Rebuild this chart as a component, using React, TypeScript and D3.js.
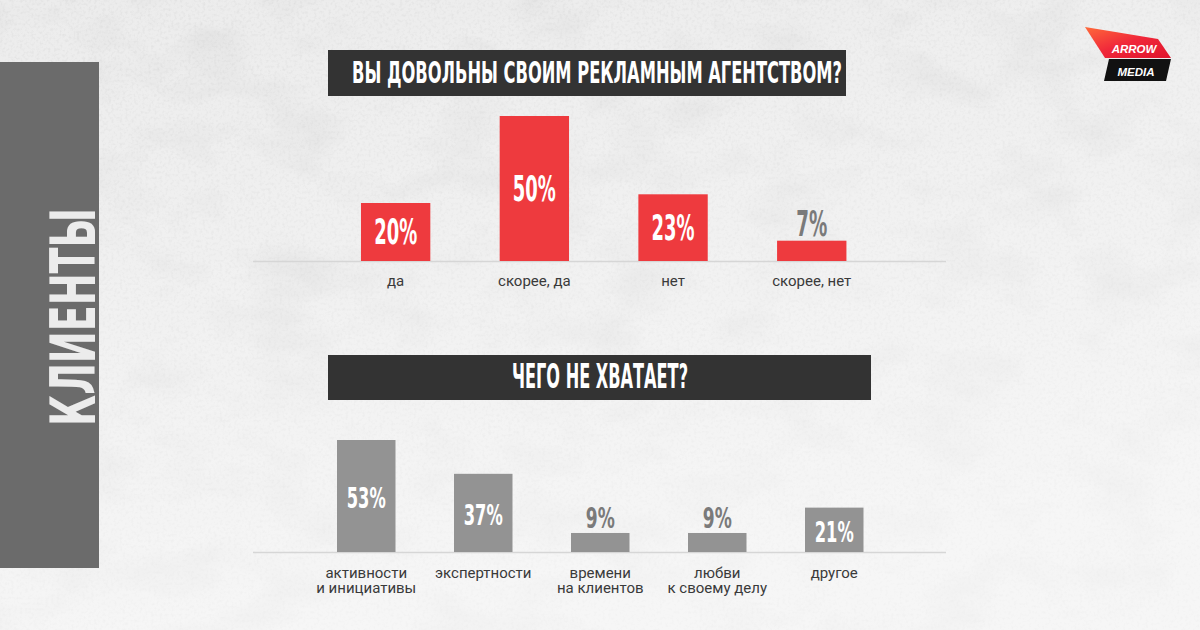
import React from "react";
import * as d3 from "d3";

const q1Title = "ВЫ ДОВОЛЬНЫ СВОИМ РЕКЛАМНЫМ АГЕНТСТВОМ?";
const q1Categories = ["да", "скорее, да", "нет", "скорее, нет"];
const q1Values = [20, 50, 23, 7];

const q2Title = "ЧЕГО НЕ ХВАТАЕТ?";
const q2Categories = [
  ["активности", "и инициативы"],
  ["экспертности"],
  ["времени", "на клиентов"],
  ["любви", "к своему делу"],
  ["другое"],
];
const q2Values = [53, 37, 9, 9, 21];

const sideLabel = "КЛИЕНТЫ";

const W = 1200;
const H = 630;
const COND = "'Liberation Sans Narrow', 'DejaVu Sans Condensed', 'Roboto', sans-serif";
const BODY = "'Liberation Sans Narrow', 'Roboto', sans-serif";

function labelLen(label: string, digitW: number, pctW: number) {
  return (label.length - 1) * digitW + pctW;
}

export default function App() {
  const x1 = d3.scaleBand<string>().domain(q1Categories).range([326.3, 881.1]).paddingInner(0.5).paddingOuter(0.25);
  const y1 = d3.scaleLinear().domain([0, 50]).range([261, 116]);

  const q2Keys = q2Categories.map((c) => c.join(" "));
  const x2 = d3.scaleBand<string>().domain(q2Keys).range([307.75, 892.75]).paddingInner(0.5).paddingOuter(0.25);
  const y2 = d3.scaleLinear().domain([0, 53]).range([552, 440]);

  return (
    <svg width={W} height={H} style={{ position: "fixed", left: 0, top: 0 }} xmlns="http://www.w3.org/2000/svg">
      <defs>
        <filter id="grain" x="0" y="0" width="100%" height="100%">
          <feTurbulence type="fractalNoise" baseFrequency="0.012 0.02" numOctaves={4} seed={3} result="n" />
          <feColorMatrix type="matrix" values="0 0 0 0 0.55  0 0 0 0 0.55  0 0 0 0 0.55  0 0 0 -1.4 0.75" />
        </filter>
        <filter id="fine" x="0" y="0" width="100%" height="100%">
          <feTurbulence type="fractalNoise" baseFrequency="0.35" numOctaves={2} seed={7} />
          <feColorMatrix type="matrix" values="0 0 0 0 0.5  0 0 0 0 0.5  0 0 0 0 0.5  0 0 0 -2.2 1.2" />
        </filter>
        <linearGradient id="fade" x1="0" y1="0" x2="0.3" y2="1">
          <stop offset="0" stopColor="#ffffff" stopOpacity={0} />
          <stop offset="1" stopColor="#ffffff" stopOpacity={0.55} />
        </linearGradient>
        <linearGradient id="redg" x1="0" y1="0" x2="1" y2="1">
          <stop offset="0" stopColor="#ff6a3a" />
          <stop offset="0.5" stopColor="#f0283a" />
          <stop offset="1" stopColor="#e0142c" />
        </linearGradient>
      </defs>
      <rect x={0} y={0} width={W} height={H} fill="#ececec" />
      <rect x={0} y={0} width={W} height={H} filter="url(#grain)" opacity={0.45} />
      <rect x={0} y={0} width={W} height={H} filter="url(#fine)" opacity={0.22} />
      <rect x={0} y={0} width={W} height={H} fill="url(#fade)" />

      {/* side panel */}
      <rect x={0} y={62} width={99} height={506} fill="#6b6b6b" />
      <text
        transform="translate(95,317) rotate(-90)"
        textAnchor="middle"
        fontFamily={COND}
        fontWeight={700}
        fontSize={63}
        fill="#ececec"
        textLength={218}
        lengthAdjust="spacingAndGlyphs"
      >
        {sideLabel}
      </text>

      {/* logo */}
      <g>
        <polygon points="1085,27 1158,39 1171,58 1105,58" fill="url(#redg)" />
        <polygon points="1109,59 1171,59 1166,81 1104,81" fill="#111" />
        <text x={1134} y={53} textAnchor="middle" fontFamily="'Liberation Sans', Arial, sans-serif" fontStyle="italic" fontWeight={700} fontSize={11.5} fill="#fff">ARROW</text>
        <text x={1136} y={76} textAnchor="middle" fontFamily="'Liberation Sans', Arial, sans-serif" fontStyle="italic" fontWeight={700} fontSize={11.5} fill="#fff">MEDIA</text>
      </g>

      {/* title 1 */}
      <rect x={328} y={50} width={518} height={46} fill="#333333" />
      <text x={597} y={83} textAnchor="middle" fontFamily={COND} fontWeight={700} fontSize={31} fill="#ffffff" textLength={490} lengthAdjust="spacingAndGlyphs">
        {q1Title}
      </text>

      {/* chart 1 */}
      <line x1={253} x2={946} y1={y1(0) + 0.5} y2={y1(0) + 0.5} stroke="#d6d6d6" strokeWidth={1.5} />
      {q1Categories.map((c, i) => {
        const v = q1Values[i];
        const x = x1(c)!;
        const bw = x1.bandwidth();
        const top = y1(v);
        const inside = v >= 10;
        const label = `${v}%`;
        return (
          <g key={c}>
            <rect x={x} y={top} width={bw} height={y1(0) - top} fill="#ee3a3e" />
            <text
              x={x + bw / 2}
              y={inside ? (top + y1(0)) / 2 + 12 : top - 5}
              textAnchor="middle"
              fontFamily={COND}
              fontWeight={700}
              fontSize={36}
              fill={inside ? "#ffffff" : "#7a7a7a"}
              textLength={labelLen(label, 12, 19)}
              lengthAdjust="spacingAndGlyphs"
            >
              {label}
            </text>
            <text x={x + bw / 2} y={286} textAnchor="middle" fontFamily={BODY} fontSize={15} fill="#3a3a3a">
              {c}
            </text>
          </g>
        );
      })}

      {/* title 2 */}
      <rect x={328} y={355} width={543} height={45} fill="#333333" />
      <text x={600} y={388} textAnchor="middle" fontFamily={COND} fontWeight={700} fontSize={33} fill="#ffffff" textLength={176} lengthAdjust="spacingAndGlyphs">
        {q2Title}
      </text>

      {/* chart 2 */}
      <line x1={253} x2={946} y1={y2(0) + 0.5} y2={y2(0) + 0.5} stroke="#d6d6d6" strokeWidth={1.5} />
      {q2Keys.map((k, i) => {
        const v = q2Values[i];
        const x = x2(k)!;
        const bw = x2.bandwidth();
        const top = y2(v);
        const inside = v >= 10;
        const label = `${v}%`;
        return (
          <g key={k}>
            <rect x={x} y={top} width={bw} height={y2(0) - top} fill="#939393" />
            <text
              x={x + bw / 2}
              y={inside ? (top + y2(0)) / 2 + 12 : top - 5}
              textAnchor="middle"
              fontFamily={COND}
              fontWeight={700}
              fontSize={29}
              fill={inside ? "#ffffff" : "#7a7a7a"}
              textLength={labelLen(label, 10, 19)}
              lengthAdjust="spacingAndGlyphs"
            >
              {label}
            </text>
            {q2Categories[i].map((line, j) => (
              <text key={j} x={x + bw / 2} y={578 + j * 15} textAnchor="middle" fontFamily={BODY} fontSize={15} fill="#3a3a3a">
                {line}
              </text>
            ))}
          </g>
        );
      })}
    </svg>
  );
}
